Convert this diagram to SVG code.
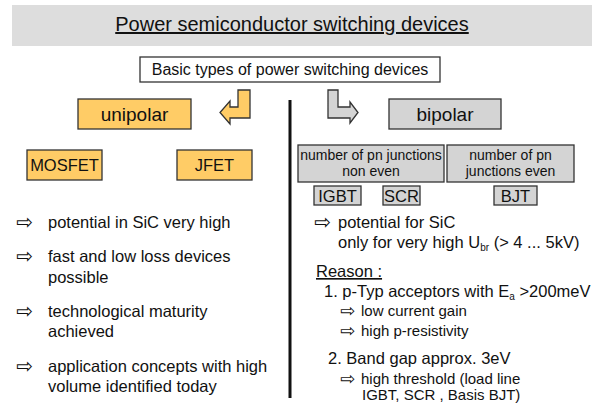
<svg xmlns="http://www.w3.org/2000/svg" width="604" height="405" viewBox="0 0 604 405">
<style>
text{font-family:"Liberation Sans",Arial,sans-serif;fill:#111}
.org{fill:#FFCC66;stroke:#333;stroke-width:1.3}
.gry{fill:#D4D4D4;stroke:#333;stroke-width:1.3}
.big{font-size:19px;text-anchor:middle}
.dev{font-size:16.5px;text-anchor:middle}
.sm{font-size:14px;text-anchor:middle}
.b{font-size:16.5px}
.s{font-size:15px}
.ar{font-family:"DejaVu Sans",sans-serif;font-size:20px}
.ar2{font-family:"DejaVu Sans",sans-serif;font-size:18px}
</style>
<rect x="12" y="5" width="580" height="41" fill="#DDDDDD"/>
<g id="title"><text x="292" y="31" font-size="20" text-anchor="middle" text-decoration="underline">Power semiconductor switching devices</text></g>
<g id="basic"><rect x="140" y="57" width="300" height="25" fill="#fff" stroke="#333" stroke-width="1.3"/><text x="290" y="75" font-size="16" text-anchor="middle">Basic types of power switching devices</text></g>
<g id="unipolar"><rect class="org" x="78" y="99" width="113" height="30"/><text class="big" x="134.5" y="121">unipolar</text></g>
<g id="bipolar"><rect class="gry" x="389" y="99" width="112" height="30"/><text class="big" x="445" y="121">bipolar</text></g>
<g id="mosfet"><rect class="org" x="27" y="150" width="75" height="30"/><text class="dev" x="64.5" y="171">MOSFET</text></g>
<g id="jfet"><rect class="org" x="177" y="150" width="75" height="30"/><text class="dev" x="214.5" y="171">JFET</text></g>
<g id="nonEven"><rect class="gry" x="298" y="145" width="146" height="37"/><text class="sm" x="371" y="160">number of pn junctions</text><text class="sm" x="371" y="176">non even</text></g>
<g id="even"><rect class="gry" x="447" y="145" width="127" height="37"/><text class="sm" x="510.5" y="160">number of pn</text><text class="sm" x="510.5" y="176">junctions even</text></g>
<g id="igbt"><rect class="gry" x="314" y="186" width="47" height="19"/><text class="dev" x="337.5" y="202">IGBT</text></g>
<g id="scr"><rect class="gry" x="383" y="186" width="37" height="19"/><text class="dev" x="401.5" y="202">SCR</text></g>
<g id="bjt"><rect class="gry" x="494" y="186" width="43" height="19"/><text class="dev" x="515.5" y="202">BJT</text></g>
<g id="connectors">
<path class="org" d="M238,90 H250 V118 H230 V124 L220,112.5 L230,101 V107 H238 Z"/>
<path class="gry" d="M328,90 H338 V107 H350 V102 L358,112.5 L350,123 V118 H328 Z"/>
<line x1="290" y1="100" x2="290" y2="398" stroke="#111" stroke-width="3"/>
</g>
<g id="unipolarNotes">
<text class="ar" x="16" y="229">⇨</text><text class="b" x="48" y="228">potential in SiC very high</text>
<text class="ar" x="16" y="263">⇨</text><text class="b" x="48" y="262">fast and low loss devices</text><text class="b" x="48" y="283">possible</text>
<text class="ar" x="16" y="318">⇨</text><text class="b" x="48" y="317">technological maturity</text><text class="b" x="48" y="337">achieved</text>
<text class="ar" x="16" y="373">⇨</text><text class="b" x="48" y="372">application concepts with high</text><text class="b" x="48" y="392">volume identified today</text>
</g>
<g id="bipolarNotes">
<text class="ar" x="314" y="229">⇨</text><text class="b" x="338" y="228">potential for SiC</text>
<text class="b" x="338" y="248">only for very high U<tspan font-size="10" dy="3">br</tspan><tspan dy="-3"> (&gt; 4 ... 5kV)</tspan></text>
<text class="b" x="316" y="277" text-decoration="underline">Reason :</text>
<text class="b" x="324" y="297">1. p-Typ acceptors with E<tspan font-size="10" dy="3">a</tspan><tspan dy="-3"> &gt;200meV</tspan></text>
<text class="ar2" x="340" y="317">⇨</text><text class="s" x="361" y="316">low current gain</text>
<text class="ar2" x="340" y="337">⇨</text><text class="s" x="361" y="336">high p-resistivity</text>
<text class="b" x="328" y="364">2. Band gap approx. 3eV</text>
<text class="ar2" x="340" y="385">⇨</text><text class="s" x="361" y="384">high threshold (load line</text>
<text class="s" x="362" y="400">IGBT, SCR , Basis BJT)</text>
</g>
</svg>
